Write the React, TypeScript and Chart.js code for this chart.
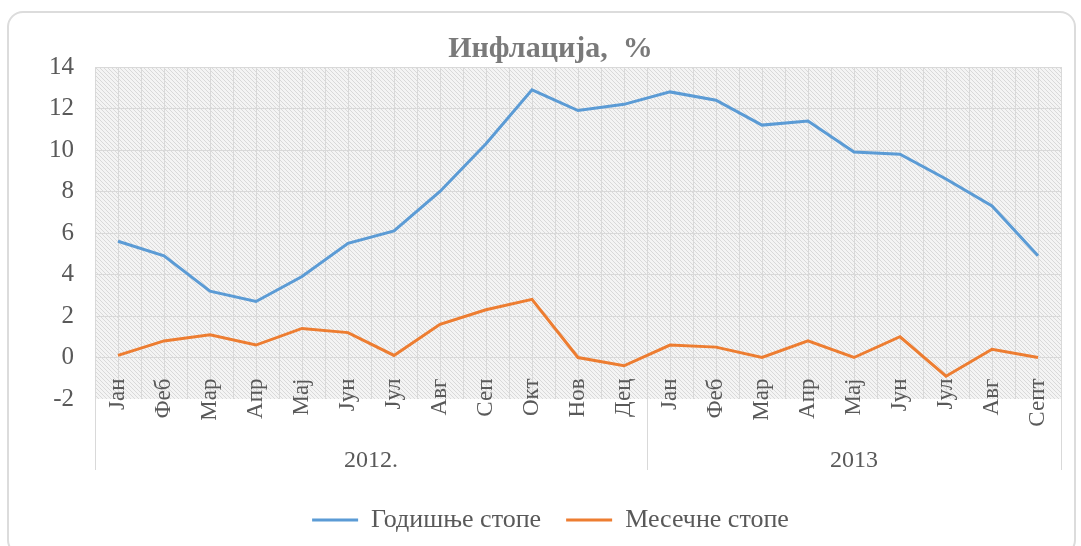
import React, { useEffect, useRef } from 'react';
import { Chart, registerables } from 'chart.js';

Chart.register(...registerables);

const months = ['Јан', 'Феб', 'Мар', 'Апр', 'Мај', 'Јун', 'Јул', 'Авг', 'Сеп', 'Окт', 'Нов', 'Дец',
  'Јан', 'Феб', 'Мар', 'Апр', 'Мај', 'Јун', 'Јул', 'Авг', 'Септ'];
const years = ['2012.', '2013'];
const monthsPerYear = [12, 9];
const annualRates = [5.6, 4.9, 3.2, 2.7, 3.9, 5.5, 6.1, 8.0, 10.3, 12.9, 11.9, 12.2,
  12.8, 12.4, 11.2, 11.4, 9.9, 9.8, 8.6, 7.3, 4.9];
const monthlyRates = [0.1, 0.8, 1.1, 0.6, 1.4, 1.2, 0.1, 1.6, 2.3, 2.8, 0.0, -0.4,
  0.6, 0.5, 0.0, 0.8, 0.0, 1.0, -0.9, 0.4, 0.0];
const seriesNames = ['Годишње стопе', 'Месечне стопе'];
const titleText = 'Инфлација,  %';
const yMin = -2;
const yMax = 14;
const yStep = 2;

const FONT = '"Liberation Serif", "Times New Roman", serif';
const TEXT = '#595959';
const GRID = '#d9d9d9';
const BLUE = '#5b9bd5';
const ORANGE = '#ed7d31';

function makeHatch(ctx: CanvasRenderingContext2D) {
  const s = 4;
  const c = document.createElement('canvas');
  c.width = s;
  c.height = s;
  const g = c.getContext('2d')!;
  g.fillStyle = '#f4f4f4';
  g.fillRect(0, 0, s, s);
  g.strokeStyle = '#d9d9d9';
  g.lineWidth = 1;
  g.beginPath();
  g.moveTo(-1, -1); g.lineTo(s + 1, s + 1);
  g.moveTo(-1, s - 1); g.lineTo(1, s + 1);
  g.moveTo(s - 1, -1); g.lineTo(s + 1, 1);
  g.stroke();
  return ctx.createPattern(c, 'repeat');
}

const plotDecor = {
  id: 'plotDecor',
  beforeDraw(chart: any) {
    const { ctx, chartArea: a, scales } = chart;
    const x = scales.x;
    ctx.save();
    const pat = makeHatch(ctx);
    if (pat) ctx.fillStyle = pat;
    ctx.fillRect(a.left, a.top, a.right - a.left, a.bottom - a.top);
    ctx.strokeStyle = GRID;
    ctx.lineWidth = 1;
    const n = months.length;
    ctx.beginPath();
    for (let i = 0; i <= 2 * n; i++) {
      const px = Math.round(x.getPixelForValue(i / 2 - 0.5)) + 0.5;
      ctx.moveTo(px, a.top);
      ctx.lineTo(px, a.bottom);
    }
    ctx.stroke();
    ctx.restore();
  },
  afterDraw(chart: any) {
    const { ctx, chartArea: a, scales } = chart;
    const x = scales.x;
    ctx.save();
    ctx.strokeStyle = GRID;
    ctx.lineWidth = 1;
    ctx.fillStyle = TEXT;
    ctx.font = `24px ${FONT}`;
    ctx.textAlign = 'center';
    ctx.textBaseline = 'middle';
    let start = 0;
    const l0 = Math.round(x.getPixelForValue(-0.5)) + 0.5;
    ctx.beginPath();
    ctx.moveTo(l0, a.bottom);
    ctx.lineTo(l0, a.bottom + 71);
    years.forEach((yr, i) => {
      const end = start + monthsPerYear[i];
      const left = x.getPixelForValue(start - 0.5);
      const right = x.getPixelForValue(end - 0.5);
      const rx = Math.round(right) + 0.5;
      ctx.moveTo(rx, a.bottom);
      ctx.lineTo(rx, a.bottom + 71);
      ctx.fillText(yr, (left + right) / 2, a.bottom + 62);
      start = end;
    });
    ctx.stroke();
    ctx.restore();
  },
};

export default function App() {
  const ref = useRef<HTMLCanvasElement>(null);

  useEffect(() => {
    if (!ref.current) return;
    const chart = new Chart(ref.current, {
      type: 'line',
      data: {
        labels: months,
        datasets: [
          {
            label: seriesNames[0],
            data: annualRates,
            borderColor: BLUE,
            backgroundColor: BLUE,
            borderWidth: 3,
            pointRadius: 0,
            tension: 0,
          },
          {
            label: seriesNames[1],
            data: monthlyRates,
            borderColor: ORANGE,
            backgroundColor: ORANGE,
            borderWidth: 3,
            pointRadius: 0,
            tension: 0,
          },
        ],
      },
      options: {
        responsive: false,
        animation: false,
        layout: { padding: { left: 20, right: 0, top: 0, bottom: 3 } },
        scales: {
          x: {
            type: 'category',
            position: { y: 0 } as any,
            offset: true,
            grid: { display: false, drawTicks: false },
            border: { display: false },
            ticks: {
              autoSkip: false,
              maxRotation: 90,
              minRotation: 90,
              padding: 21,
              color: TEXT,
              font: { family: FONT, size: 23 },
            },
            afterFit: (s: any) => {
              s.paddingLeft = 0;
              s.paddingRight = 0;
              s.paddingTop = 0;
              s.paddingBottom = 0;
            },
          },
          x2: {
            type: 'linear',
            axis: 'x',
            position: 'bottom',
            grid: { display: false, drawTicks: false },
            border: { display: false },
            ticks: { display: false },
            afterFit: (s: any) => { s.height = 83; },
          },
          y: {
            type: 'linear',
            min: yMin,
            max: yMax,
            ticks: {
              stepSize: yStep,
              padding: 21,
              color: TEXT,
              font: { family: FONT, size: 25 },
            },
            grid: {
              drawTicks: false,
              color: (c: any) => (c.tick && c.tick.value === yMin ? 'rgba(0,0,0,0)' : GRID),
            },
            border: { display: false },
            afterFit: (s: any) => { s.width = 75; },
          },
          y2: {
            type: 'linear',
            axis: 'y',
            position: 'right',
            grid: { display: false, drawTicks: false },
            border: { display: false },
            ticks: { display: false },
            afterFit: (s: any) => { s.width = 20; },
          },
        },
        plugins: {
          title: {
            display: true,
            text: titleText,
            color: '#7a7a7a',
            font: { family: FONT, size: 30, weight: 'bold' },
            padding: { top: 31, bottom: 0 },
          },
          legend: {
            position: 'bottom',
            labels: {
              color: TEXT,
              font: { family: FONT, size: 26 },
              boxWidth: 46,
              boxHeight: 3,
              padding: 25,
              generateLabels: (ch: any) =>
                Chart.defaults.plugins.legend.labels.generateLabels(ch).map((l: any) => ({
                  ...l,
                  fillStyle: l.strokeStyle,
                  lineWidth: 0,
                })),
            },
          },
          tooltip: { enabled: false },
        },
      } as any,
      plugins: [plotDecor],
    });
    return () => chart.destroy();
  }, []);

  return (
    <div style={{ position: 'fixed', left: 0, top: 0, width: 1081, height: 546, background: '#fff', overflow: 'hidden' }}>
      <div
        style={{
          position: 'absolute',
          left: 7,
          top: 11,
          width: 1069,
          height: 545,
          border: '2px solid #dcdcdc',
          borderRadius: 16,
          boxSizing: 'border-box',
        }}
      />
      <canvas ref={ref} width={1081} height={546} style={{ position: 'absolute', left: 0, top: 0, display: 'block' }} />
    </div>
  );
}
